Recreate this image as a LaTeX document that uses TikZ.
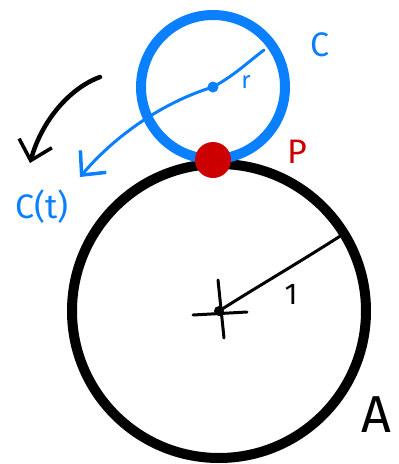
\documentclass[tikz,border=0pt]{standalone}
\usepackage{fontspec}
\setmainfont{Fira Sans}
\usetikzlibrary{arrows.meta}
\definecolor{skyblue}{RGB}{10,128,255}
\definecolor{dotred}{RGB}{204,0,0}
\begin{document}
\begin{tikzpicture}[x=1pt,y=-1pt,
  lbl/.style={inner sep=0pt,font=\fontsize{34}{34}\selectfont},
  openhead/.style={-{Straight Barb[length=18pt,width=34pt,line width=3.5pt]}}]
\useasboundingbox (0,0) rectangle (399,464);
% big circle A
\coordinate (Ac) at (219,311);
\draw[line width=10pt,black] (Ac) circle[radius=147];
% radius of A
\coordinate (Aedge) at (345,233);
\draw[line width=3pt,line cap=round] (Ac) .. controls (260,285) and (300,262) .. (Aedge);
% cross at center
\coordinate (cxl) at (193,315);
\coordinate (cxr) at (247,312);
\coordinate (cyt) at (218,280);
\coordinate (cyb) at (224,338);
\draw[line width=3pt,line cap=round] (cxl) -- (cxr);
\draw[line width=3pt,line cap=round] (cyt) -- (cyb);
\fill (Ac) circle[radius=5];
% small circle C
\coordinate (Cc) at (213,87);
\draw[line width=10pt,skyblue] (Cc) circle[radius=72];
\fill[skyblue] (Cc) circle[radius=5.5];
% blue radius line and arrow
\coordinate (Cedge) at (264,50);
\coordinate (Ctip) at (80,177);
\draw[line width=3pt,skyblue,line cap=round] (Cc) .. controls (235,75) and (248,62) .. (Cedge);
\draw[line width=3pt,skyblue,line cap=round,openhead] (Cc) .. controls (170,100) and (120,130) .. (Ctip);
% black rotation arrow
\coordinate (rotstart) at (100,77);
\coordinate (rottip) at (30,163);
\draw[line width=4.5pt,line cap=round,openhead] (rotstart) .. controls (70,88) and (42,120) .. (rottip);
% contact point P
\node[circle,fill=dotred,minimum size=36pt,inner sep=0pt] (P) at (213,160) {};
% labels
\node[lbl,text=skyblue] (labC) at (320,45) {C};
\node[lbl,text=skyblue,font=\fontsize{24}{24}\selectfont] (labr) at (246,82) {r};
\node[lbl,text=skyblue] (labCt) at (42,207) {C(t)};
\node[lbl,text=dotred] (labP) at (297,152) {P};
\node[lbl,font=\fontsize{30}{30}\selectfont] (lab1) at (291,294) {1};
\node[lbl,font=\fontsize{52}{52}\selectfont] (labA) at (376,415) {A};
\end{tikzpicture}
\end{document}
